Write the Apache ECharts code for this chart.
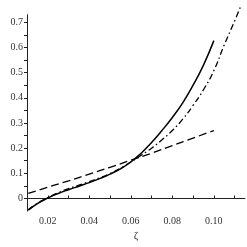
<!DOCTYPE html>
<html><head><meta charset="utf-8">
<script src="https://cdn.jsdelivr.net/npm/echarts@6/dist/echarts.min.js"></script>
<style>html,body{margin:0;padding:0;background:#fff}#c{width:247px;height:247px}</style>
</head><body><div id="c"></div>
<script>
const solidX = [0.0106,0.015,0.02,0.025,0.03,0.035,0.04,0.045,0.05,0.055,0.06,0.065,0.07,0.075,0.08,0.085,0.09,0.095,0.10];
const solidY = [-0.046,-0.02,0.002,0.02,0.035,0.049,0.063,0.079,0.097,0.118,0.145,0.18,0.222,0.27,0.322,0.38,0.45,0.53,0.627];
const dashX = [0.0106,0.02,0.03,0.04,0.05,0.06,0.07,0.08,0.09,0.10];
const dashY = [0.02,0.045,0.07,0.097,0.124,0.152,0.18,0.21,0.24,0.27];
const dotX = [0.0106,0.015,0.02,0.025,0.03,0.035,0.04,0.045,0.05,0.055,0.06,0.065,0.07,0.075,0.08,0.085,0.09,0.095,0.10,0.105,0.11,0.113];
const dotY = [-0.045,-0.019,0.003,0.023,0.039,0.053,0.067,0.082,0.099,0.12,0.145,0.172,0.2,0.233,0.27,0.315,0.37,0.432,0.508,0.61,0.705,0.765];
const xTicks = [0.02,0.03,0.04,0.05,0.06,0.07,0.08,0.09,0.10,0.11];
const xLabels = [0.02,0.04,0.06,0.08,0.10];
const yTicks = [0,0.05,0.1,0.15,0.2,0.25,0.3,0.35,0.4,0.45,0.5,0.55,0.6,0.65,0.7];
const yLabels = [0,0.1,0.2,0.3,0.4,0.5,0.6,0.7];
const xName = 'ζ';

const pairs = (xs, ys) => xs.map((x, i) => [x, ys[i]]);
const font = 'Liberation Serif';
const chart = echarts.init(document.getElementById('c'), null, {renderer: 'canvas'});
chart.setOption({
  animation: false,
  grid: {left: 27, right: 2, top: 14.7, bottom: 15.8, containLabel: false},
  xAxis: {
    type: 'value', min: 0.01, max: 0.115,
    name: xName, nameLocation: 'middle', nameGap: 17,
    nameTextStyle: {fontFamily: font, fontSize: 11, color: '#333'},
    axisLine: {onZero: true, lineStyle: {color: '#222', width: 1}},
    axisTick: {show: true, inside: true, length: 3, customValues: xTicks, lineStyle: {color: '#222'}},
    axisLabel: {customValues: xLabels, formatter: v => v.toFixed(2), fontFamily: font, fontSize: 10, color: '#333', margin: 5},
    splitLine: {show: false}
  },
  yAxis: {
    type: 'value', min: -0.05, max: 0.73,
    axisLine: {show: true, lineStyle: {color: '#222', width: 1}},
    axisTick: {show: true, length: 3, customValues: yTicks, lineStyle: {color: '#222'}},
    axisLabel: {customValues: yLabels, formatter: v => v === 0 ? '0' : String(+v.toFixed(1)), fontFamily: font, fontSize: 10, color: '#333', margin: 4},
    splitLine: {show: false}
  },
  series: [
    {type: 'line', data: pairs(dashX, dashY), smooth: true, symbol: 'none', clip: false,
     lineStyle: {color: '#000', width: 1.3, type: [8, 4]}},
    {type: 'line', data: pairs(dotX, dotY), smooth: true, symbol: 'none', clip: false,
     lineStyle: {color: '#000', width: 1.3, type: [6, 3, 1.5, 3]}},
    {type: 'line', data: pairs(solidX, solidY), smooth: true, symbol: 'none', clip: false,
     lineStyle: {color: '#000', width: 1.5}}
  ]
});
</script></body></html>
